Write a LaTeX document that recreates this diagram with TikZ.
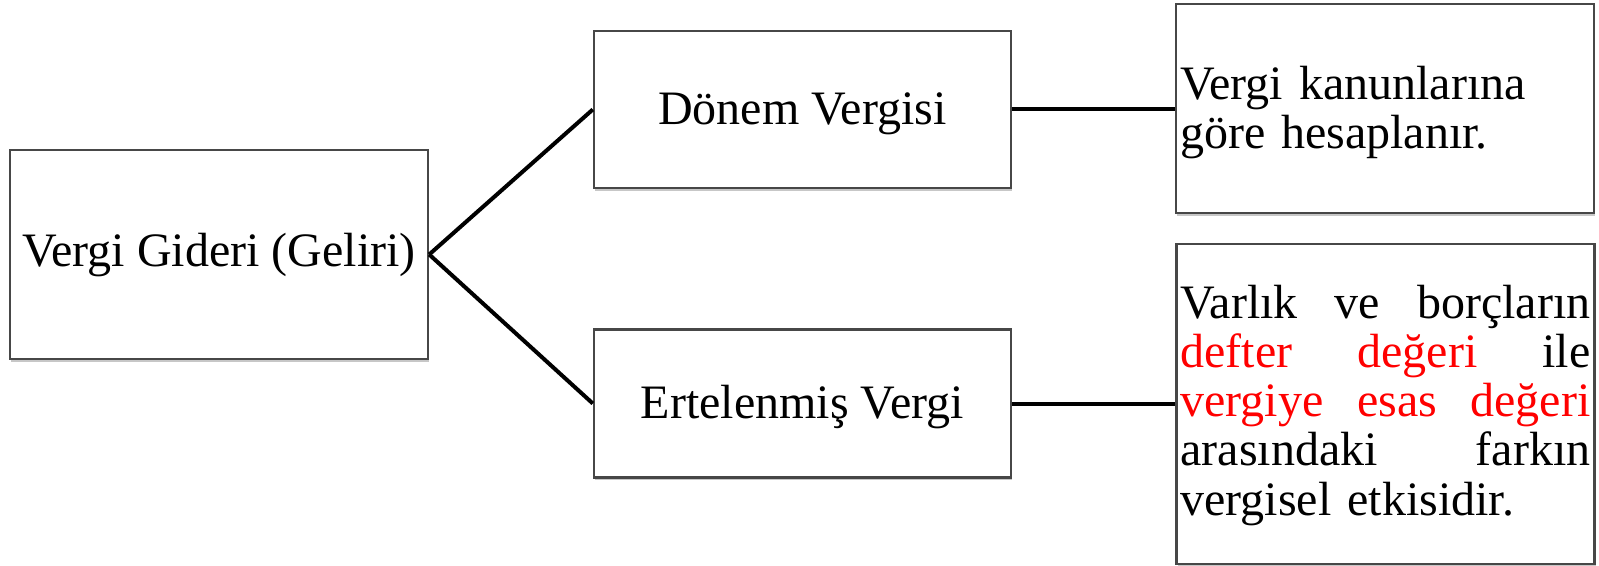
\documentclass[tikz,border=0pt]{standalone}
\usepackage{fontspec}
\setmainfont{Liberation Serif}
\usetikzlibrary{shadows}

\tikzset{
  box/.style={draw=black!72, line width=1.2pt, fill=white, inner sep=0pt,
    drop shadow={shadow xshift=0.7pt, shadow yshift=-1.3pt, opacity=0.22, fill=black}},
  notebox/.style={box, inner xsep=2pt, text width=205pt},
  link/.style={line width=2pt, black},
  big/.style={font=\fontsize{24pt}{24.5pt}\selectfont},
}
% a justified line of a note: words spread over the full text width
\newcommand{\fullline}[1]{\leavevmode\hbox to 205pt{#1}}

\begin{document}
\begin{tikzpicture}[x=0.5pt, y=-0.5pt, big]
\useasboundingbox (0,0) rectangle (1599,566);

% main concept
\node[box, minimum width=209pt, minimum height=104.5pt,
      text height=17pt, text depth=4.5pt] (gider) at (219,254.5)
  {Vergi Gideri (Geliri)};

% its two components
\node[box, minimum width=208.5pt, minimum height=78.5pt,
      text height=18pt, text depth=2.5pt] (donem) at (802.5,109.5)
  {Dönem Vergisi};
\node[box, minimum width=208.5pt, minimum height=74pt,
      text height=18pt, text depth=3.5pt] (ertelenmis) at (802.5,403.5)
  {Ertelenmiş Vergi};

% explanations
\node[notebox, minimum height=104.5pt, text height=20pt, text depth=28.5pt]
  (donemnot) at (1385,108.5)
  {\noindent Vergi kanunlarına\\göre hesaplanır.};
\node[notebox, minimum height=160pt, text height=18pt, text depth=103pt]
  (ertnot) at (1385.5,404)
  {\noindent\fullline{Varlık\hfill ve\hfill borçların}\\
   \fullline{\textcolor{red}{defter\hfill değeri}\hfill ile}\\
   \fullline{\textcolor{red}{vergiye\hfill esas\hfill değeri}}\\
   \fullline{arasındaki\hfill farkın}\\
   vergisel etkisidir.};

% connectors
\draw[link] (gider.east) -- (donem.west);
\draw[link] (gider.east) -- (ertelenmis.west);
\draw[link] (donem.east) -- (donem.east -| donemnot.west);
\draw[link] (ertelenmis.east) -- (ertelenmis.east -| ertnot.west);
\end{tikzpicture}
\end{document}
